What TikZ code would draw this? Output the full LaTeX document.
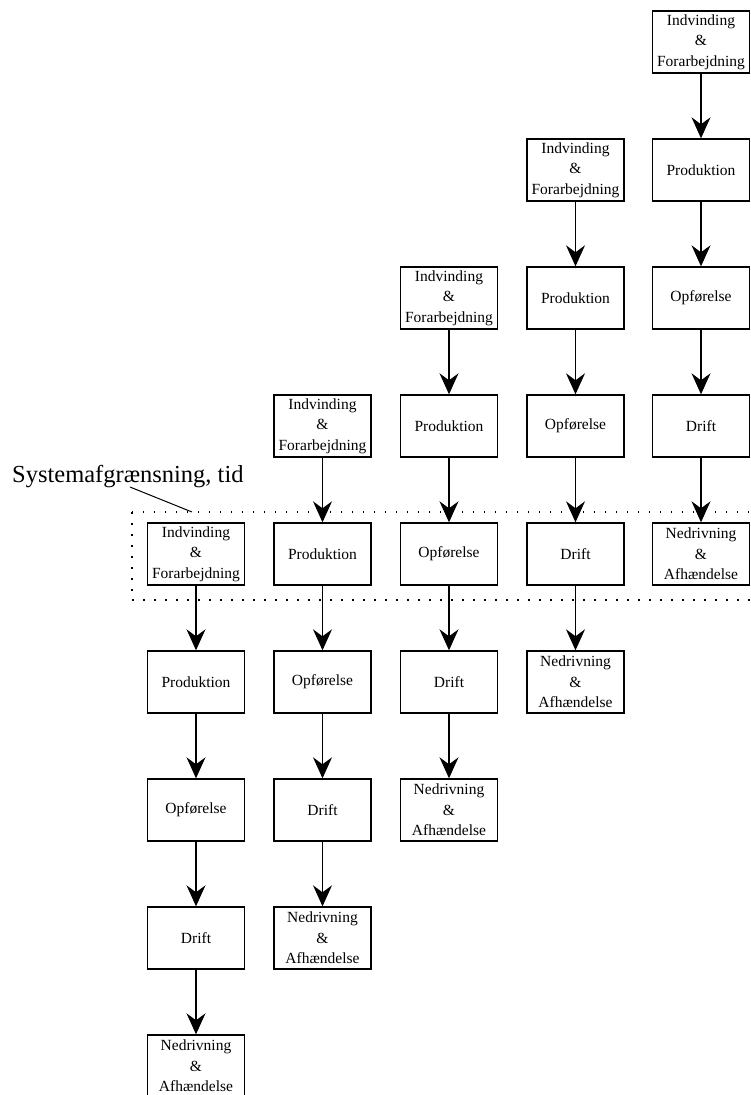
\documentclass[tikz,border=0pt]{standalone}
\usepackage{fontspec}
\setmainfont{Liberation Serif}
\usetikzlibrary{arrows.meta, positioning}

\begin{document}
\begin{tikzpicture}[
  x=1pt, y=-1pt,
  every node/.style={font=\fontsize{15.5}{20.5}\selectfont, align=center},
  stage/.style={draw, line width=1.4pt, minimum width=97pt, minimum height=62pt, inner sep=1pt},
  arr/.style={-{Stealth[length=21pt, width=19pt, inset=7pt]}, line width=1.1pt},
  bound/.style={line width=1.5pt, dash pattern=on 1.5pt off 9.5pt},
]
  \useasboundingbox (0,0) rectangle (751,1095);

  % system boundary in time
  \draw[bound] (132,512) rectangle (754,600);
  \node[anchor=base west, font=\fontsize{24.5}{28}\selectfont, inner sep=0pt] (lbl) at (12,482) {Systemafgrænsning, tid};
  \coordinate (lblfoot) at (130,487);
  \coordinate (boundtop) at (192,512);
  \draw[line width=1pt] (lblfoot) -- (boundtop);

  % column 1
  \node[stage] (i1) at (196,554)  {Indvinding\\\&\\Forarbejdning};
  \node[stage] (p1) at (196,682)  {Produktion};
  \node[stage] (o1) at (196,810)  {Opførelse};
  \node[stage] (d1) at (196,938)  {Drift};
  \node[stage] (n1) at (196,1066) {Nedrivning\\\&\\Afhændelse};

  % column 2
  \node[stage] (i2) at (322.5,426) {Indvinding\\\&\\Forarbejdning};
  \node[stage] (p2) at (322.5,554) {Produktion};
  \node[stage] (o2) at (322.5,682) {Opførelse};
  \node[stage] (d2) at (322.5,810) {Drift};
  \node[stage] (n2) at (322.5,938) {Nedrivning\\\&\\Afhændelse};

  % column 3
  \node[stage] (i3) at (449,298) {Indvinding\\\&\\Forarbejdning};
  \node[stage] (p3) at (449,426) {Produktion};
  \node[stage] (o3) at (449,554) {Opførelse};
  \node[stage] (d3) at (449,682) {Drift};
  \node[stage] (n3) at (449,810) {Nedrivning\\\&\\Afhændelse};

  % column 4
  \node[stage] (i4) at (575.5,170) {Indvinding\\\&\\Forarbejdning};
  \node[stage] (p4) at (575.5,298) {Produktion};
  \node[stage] (o4) at (575.5,426) {Opførelse};
  \node[stage] (d4) at (575.5,554) {Drift};
  \node[stage] (n4) at (575.5,682) {Nedrivning\\\&\\Afhændelse};

  % column 5
  \node[stage] (i5) at (701,42)  {Indvinding\\\&\\Forarbejdning};
  \node[stage] (p5) at (701,170) {Produktion};
  \node[stage] (o5) at (701,298) {Opførelse};
  \node[stage] (d5) at (701,426) {Drift};
  \node[stage] (n5) at (701,554) {Nedrivning\\\&\\Afhændelse};

  \draw[arr] (i1) -- (p1); \draw[arr] (p1) -- (o1); \draw[arr] (o1) -- (d1); \draw[arr] (d1) -- (n1);
  \draw[arr] (i2) -- (p2); \draw[arr] (p2) -- (o2); \draw[arr] (o2) -- (d2); \draw[arr] (d2) -- (n2);
  \draw[arr] (i3) -- (p3); \draw[arr] (p3) -- (o3); \draw[arr] (o3) -- (d3); \draw[arr] (d3) -- (n3);
  \draw[arr] (i4) -- (p4); \draw[arr] (p4) -- (o4); \draw[arr] (o4) -- (d4); \draw[arr] (d4) -- (n4);
  \draw[arr] (i5) -- (p5); \draw[arr] (p5) -- (o5); \draw[arr] (o5) -- (d5); \draw[arr] (d5) -- (n5);
\end{tikzpicture}
\end{document}
